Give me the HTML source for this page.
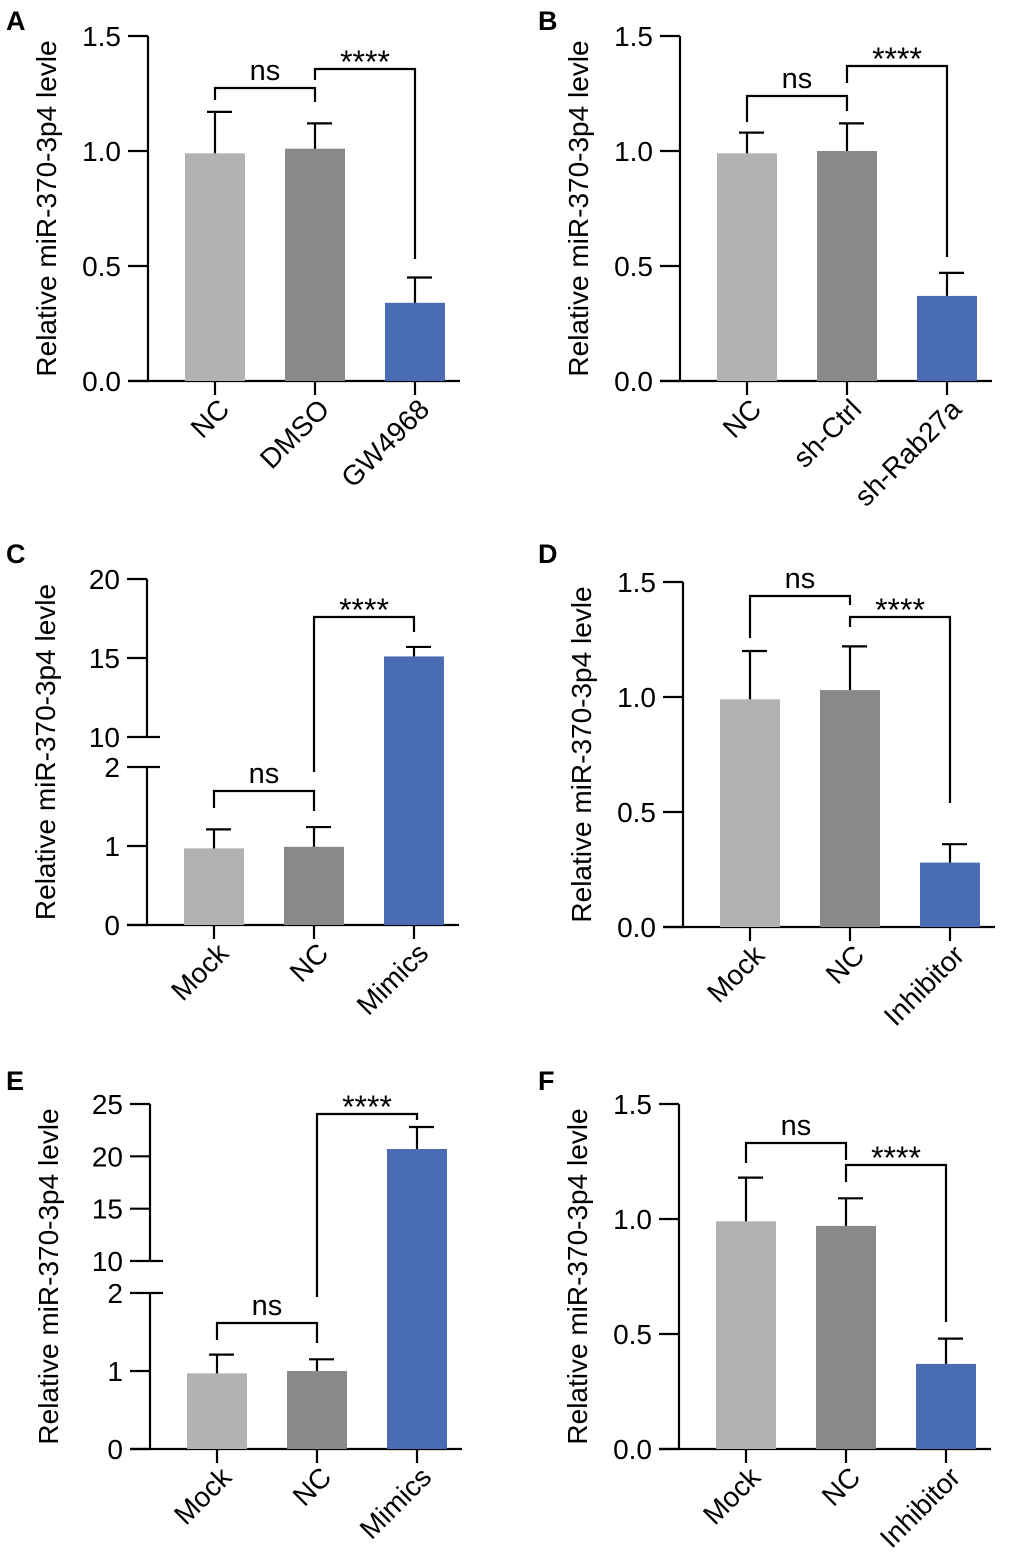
<!DOCTYPE html>
<html><head><meta charset="utf-8"><style>
html,body{margin:0;padding:0;background:#fff}
svg{display:block;font-family:"Liberation Sans",Arial,sans-serif}
</style></head><body>
<svg id="fig" width="1020" height="1563" viewBox="0 0 1020 1563" xmlns="http://www.w3.org/2000/svg"></svg>
<script>
// ---- data ----
const aCats=["NC","DMSO","GW4968"];
const aMeans=[0.99,1.01,0.34];
const aErrs=[0.18,0.11,0.11];
const bCats=["NC","sh-Ctrl","sh-Rab27a"];
const bMeans=[0.99,1.00,0.37];
const bErrs=[0.09,0.12,0.10];
const cCats=["Mock","NC","Mimics"];
const cMeans=[0.97,0.99,15.1];
const cErrs=[0.24,0.25,0.6];
const dCats=["Mock","NC","Inhibitor"];
const dMeans=[0.99,1.03,0.28];
const dErrs=[0.21,0.19,0.08];
const eCats=["Mock","NC","Mimics"];
const eMeans=[0.97,1.00,20.7];
const eErrs=[0.24,0.15,2.1];
const fCats=["Mock","NC","Inhibitor"];
const fMeans=[0.99,0.97,0.37];
const fErrs=[0.19,0.12,0.11];
const linTicks=["0.0","0.5","1.0","1.5"];
const cTicks=["0","1","2","10","15","20"];
const eTicks=["0","1","2","10","15","20","25"];

const colors=["#b2b2b2","#898989","#4a6cb3"];
const NS="http://www.w3.org/2000/svg";
const svg=document.getElementById('fig');
function mk(tag,attrs,parent){const e=document.createElementNS(NS,tag);for(const k in attrs)e.setAttribute(k,attrs[k]);(parent||svg).appendChild(e);return e;}

function panel(p){
  const g=mk('g',{});
  
  
  const y=v=>{for(const s of p.segs){if(v>=s.v0&&v<=s.v1)return s.p0+(v-s.v0)/(s.v1-s.v0)*(s.p1-s.p0);}
    const s=p.segs[p.segs.length-1];return s.p0+(v-s.v0)/(s.v1-s.v0)*(s.p1-s.p0);};
  const ax=p.ax;
  const L=mk('text',{x:p.lx,y:p.ly,'font-size':27,'font-weight':'bold'},g);L.textContent=p.letter;
  
  p.segs.forEach(s=>{const l=mk('line',{x1:ax,x2:ax,y1:s.p0+1,y2:s.p1,stroke:'#000','stroke-width':2.2},g);
    });
  p.ticks.forEach(t=>{const v=parseFloat(t),py=y(v);
    const brk=p.breaks&&p.breaks.includes(t);
    const tl=mk('line',{x1:ax-20,x2:brk?ax+13:ax,y1:py,y2:py,stroke:'#000','stroke-width':2.2},g);
    
    const tx=mk('text',{x:ax-27,y:py+10,'font-size':28,'text-anchor':'end'},g);tx.textContent=t;
    });
  const y0=y(0);
  const xl=mk('line',{x1:ax-20,x2:ax+312,y1:y0,y2:y0,stroke:'#000','stroke-width':2.2},g);
  
  const yTop=p.segs[p.segs.length-1].p1, yBot=y0;
  const yl=mk('text',{x:0,y:0,'font-size':28,'text-anchor':'middle',transform:`translate(${ax-92},${(yTop+yBot)/2}) rotate(-90)`},g);
  yl.textContent='Relative miR-370-3p4 levle';
  
  const cx=i=>ax+67+i*100;
  p.cats.forEach((c,i)=>{
    const top=y(p.means[i]);
    const r=mk('rect',{x:cx(i)-30,y:top,width:60,height:y0-top,fill:colors[i]},g);
    
    const ey=y(p.means[i]+p.errs[i]);
    const e1=mk('line',{x1:cx(i),x2:cx(i),y1:top,y2:ey,stroke:'#000','stroke-width':2.2},g);
    
    const e2=mk('line',{x1:cx(i)-8,x2:cx(i)+17,y1:ey,y2:ey,stroke:'#000','stroke-width':2.2},g);
    
    const xt=mk('line',{x1:cx(i),x2:cx(i),y1:y0,y2:y0+14,stroke:'#000','stroke-width':2.2},g);
    
    const lt=mk('text',{x:0,y:0,'font-size':28,'text-anchor':'end',transform:`translate(${cx(i)+16},${y0+30}) rotate(-45)`},g);
    lt.textContent=c;
  });
  p.brackets.forEach(b=>{
    const [i,j,lev,l1,l2,lab]=b;
    const pl=mk('polyline',{points:`${cx(i)},${l1} ${cx(i)},${lev} ${cx(j)},${lev} ${cx(j)},${l2}`,fill:'none',stroke:'#000','stroke-width':2.2},g);
    
    const t=mk('text',{x:(cx(i)+cx(j))/2,y:lab==='ns'?lev-8:lev+4,'font-size':lab==='ns'?29:32,'text-anchor':'middle'},g);
    t.textContent=lab;
  });
}
panel({letter:'A',lx:6,ly:30,ax:148,segs:[{v0:0,v1:1.5,p0:381,p1:36}],ticks:linTicks,cats:aCats,means:aMeans,errs:aErrs,
  brackets:[[0,1,88,100,102,'ns'],[1,2,69,80,259,'****']]});
panel({letter:'B',lx:538,ly:30,ax:680,segs:[{v0:0,v1:1.5,p0:381,p1:36}],ticks:linTicks,cats:bCats,means:bMeans,errs:bErrs,
  brackets:[[0,1,96,122,111,'ns'],[1,2,66,83,257,'****']]});
panel({letter:'C',lx:6,ly:563,ax:147,segs:[{v0:0,v1:2,p0:925,p1:767},{v0:10,v1:20,p0:737,p1:579}],ticks:cTicks,breaks:["10","2"],cats:cCats,means:cMeans,errs:cErrs,
  brackets:[[0,1,791,808,811,'ns'],[1,2,617,772,632,'****']]});
panel({letter:'D',lx:538,ly:563,ax:683,segs:[{v0:0,v1:1.5,p0:927,p1:582}],ticks:linTicks,cats:dCats,means:dMeans,errs:dErrs,
  brackets:[[0,1,596,638,605,'ns'],[1,2,617,627,803,'****']]});
panel({letter:'E',lx:6,ly:1090,ax:150,segs:[{v0:0,v1:2,p0:1449,p1:1293},{v0:10,v1:25,p0:1261,p1:1104}],ticks:eTicks,breaks:["10","2"],cats:eCats,means:eMeans,errs:eErrs,
  brackets:[[0,1,1323,1340,1343,'ns'],[1,2,1114,1297,1120,'****']]});
panel({letter:'F',lx:538,ly:1090,ax:679,segs:[{v0:0,v1:1.5,p0:1449,p1:1104}],ticks:linTicks,cats:fCats,means:fMeans,errs:fErrs,
  brackets:[[0,1,1143,1163,1160,'ns'],[1,2,1165,1182,1322,'****']]});
</script>
</body></html>
